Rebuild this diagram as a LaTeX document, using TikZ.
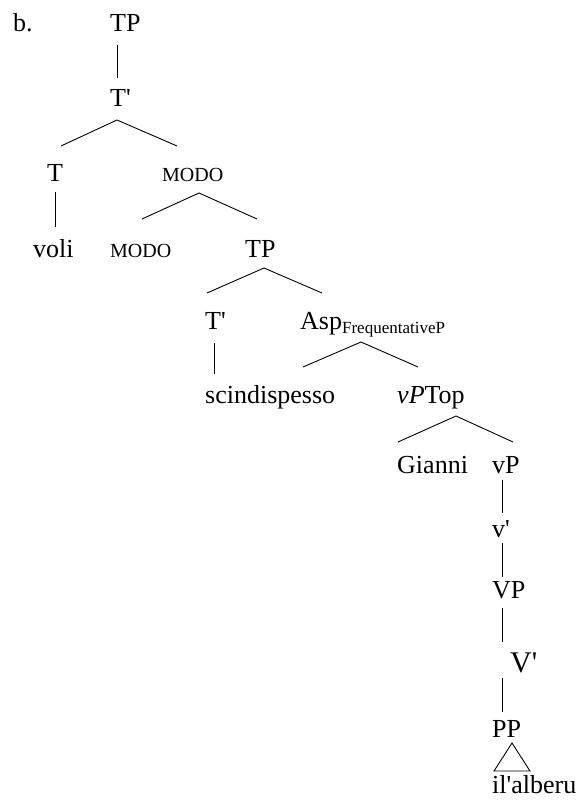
\documentclass[tikz,border=0pt]{standalone}
\usepackage{fontspec}
\setmainfont{Liberation Serif}
\newcommand{\apo}{\textquotesingle}
\begin{document}
\begin{tikzpicture}[x=1pt,y=-1pt,
  lbl/.style={anchor=base west,inner sep=0pt,font=\fontsize{26}{30}\selectfont},
  sml/.style={anchor=base west,inner sep=0pt,font=\fontsize{20}{24}\selectfont},
  big/.style={anchor=base west,inner sep=0pt,font=\fontsize{30}{34}\selectfont},
  edge/.style={line width=0.9pt,black}]
\useasboundingbox (0,0) rectangle (580,805);
% labels
\node[lbl] (b) at (13,32) {b.};
\node[lbl] (TPa) at (110,32) {TP};
\node[lbl] (Tba) at (110,107) {T\apo};
\node[lbl] (T) at (47,182) {T};
\node[sml] (MODOa) at (162,182) {MODO};
\node[lbl] (voli) at (33,257) {voli};
\node[sml] (MODOb) at (110,257) {MODO};
\node[lbl] (TPb) at (245,257) {TP};
\node[lbl] (Tbb) at (205,329) {T\apo};
\node[lbl] (Asp) at (300,329) {Asp\raisebox{-4pt}{\fontsize{17}{20}\selectfont FrequentativeP}};
\node[lbl] (scind) at (205,403) {scindispesso};
\node[lbl] (vPTop) at (397,403) {\textit{vP}Top};
\node[lbl] (Gianni) at (397,473) {Gianni};
\node[lbl] (vP) at (492,473) {vP};
\node[lbl] (vb) at (492,537) {v\apo};
\node[lbl] (VP) at (492,598) {VP};
\node[big] (Vb) at (510,672) {V\apo};
\node[lbl] (PP) at (492,737) {PP};
\node[lbl] (alberu) at (492,793) {il\apo alberu};
% connector end points
\coordinate (TPa-d) at (117,45);   \coordinate (Tba-u) at (117,78);
\coordinate (Tba-d) at (117,120);  \coordinate (T-u) at (61,146);  \coordinate (MODOa-u) at (177,146);
\coordinate (T-d) at (55,192);     \coordinate (voli-u) at (55,227);
\coordinate (MODOa-d) at (199,193);\coordinate (MODOb-u) at (142,219); \coordinate (TPb-u) at (257,219);
\coordinate (TPb-d) at (264,268);  \coordinate (Tbb-u) at (207,293); \coordinate (Asp-u) at (322,293);
\coordinate (Tbb-d) at (214,343);  \coordinate (scind-u) at (214,374);
\coordinate (Asp-d) at (361,342);  \coordinate (scind-u2) at (303,367); \coordinate (vPTop-u) at (418,367);
\coordinate (vPTop-d) at (456,416);\coordinate (Gianni-u) at (398,442); \coordinate (vP-u) at (513,442);
\coordinate (vP-d) at (502,480);   \coordinate (vb-u) at (502,513);
\coordinate (vb-d) at (502,543);   \coordinate (VP-u) at (502,577);
\coordinate (VP-d) at (502,608);   \coordinate (Vb-u) at (502,642);
\coordinate (Vb-d) at (502,678);   \coordinate (PP-u) at (502,712);
\coordinate (tri-a) at (512,743);  \coordinate (tri-l) at (494,771); \coordinate (tri-r) at (530,771);
% connectors
\draw[edge] (TPa-d) -- (Tba-u);
\draw[edge] (T-u) -- (Tba-d) -- (MODOa-u);
\draw[edge] (T-d) -- (voli-u);
\draw[edge] (MODOb-u) -- (MODOa-d) -- (TPb-u);
\draw[edge] (Tbb-u) -- (TPb-d) -- (Asp-u);
\draw[edge] (Tbb-d) -- (scind-u);
\draw[edge] (scind-u2) -- (Asp-d) -- (vPTop-u);
\draw[edge] (Gianni-u) -- (vPTop-d) -- (vP-u);
\draw[edge] (vP-d) -- (vb-u);
\draw[edge] (vb-d) -- (VP-u);
\draw[edge] (VP-d) -- (Vb-u);
\draw[edge] (Vb-d) -- (PP-u);
\draw[edge,line join=miter] (tri-a) -- (tri-l) -- (tri-r) -- cycle;
\end{tikzpicture}
\end{document}
